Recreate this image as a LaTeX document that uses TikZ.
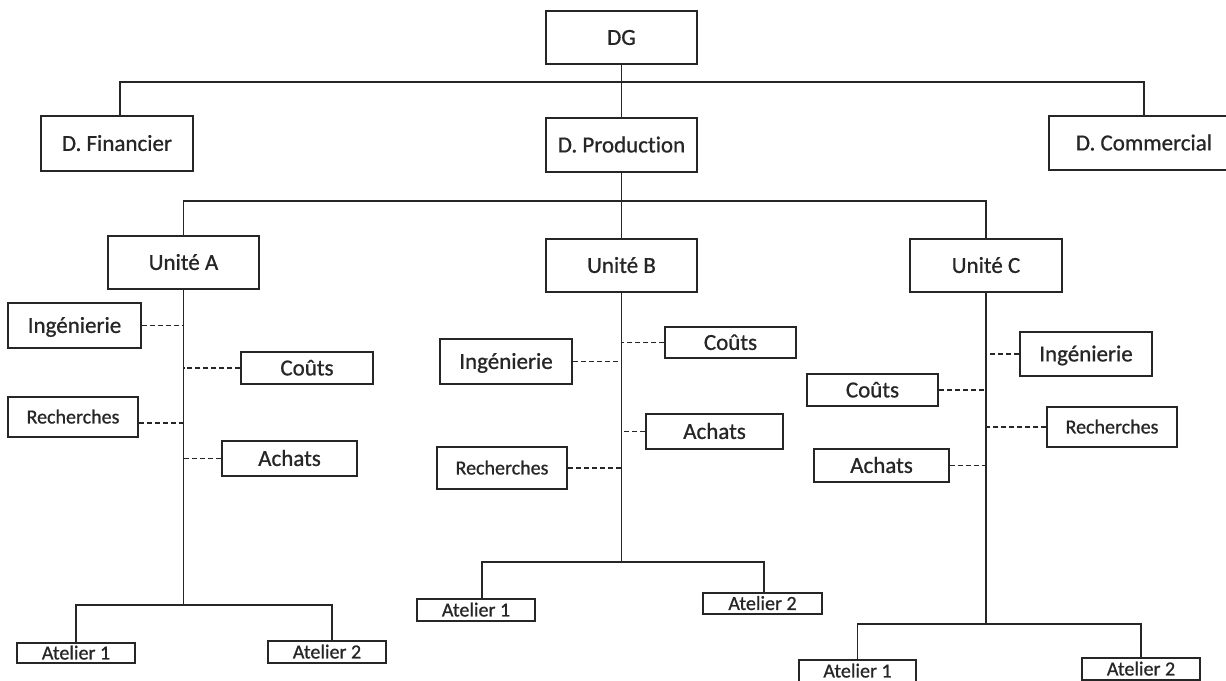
\documentclass[tikz,border=0pt]{standalone}
\usepackage{fontspec}
\setmainfont{Carlito}[Ligatures=NoCommon, FakeBold=0.8]
\begin{document}
\begin{tikzpicture}[x=1pt, y=-1pt, color=black!85,
  box/.style={draw, rectangle, line width=1.5pt, inner sep=0pt,
    text height=14.8pt, text depth=0pt,
    font=\fontsize{23}{27}\selectfont},
  small/.style={text height=12.9pt, font=\fontsize{20}{24}\selectfont},
  link/.style={line width=1.5pt},
  staff/.style={line width=1.2pt, dash pattern=on 5pt off 3pt}]
\useasboundingbox (0,0) rectangle (1226,680);

% general management and directorates
\node[box, minimum width=151pt, minimum height=53pt] (dg)   at (621.5,37.5) {DG};
\node[box, minimum width=152pt, minimum height=55pt] (fin)  at (117,143.5)  {D. Financier};
\node[box, minimum width=151pt, minimum height=54pt] (prod) at (621.5,145)  {D. Production};
\node[box, minimum width=190pt, minimum height=54pt] (com)  at (1144,143)   {D. Commercial};

% production units
\node[box, minimum width=151pt, minimum height=53pt] (ua) at (183.5,262.5) {Unité A};
\node[box, minimum width=151pt, minimum height=53pt] (ub) at (621.5,265.5) {Unité B};
\node[box, minimum width=152pt, minimum height=53pt] (uc) at (986,265.5)   {Unité C};

% unit A staff and workshops
\node[box, minimum width=133pt, minimum height=45pt] (ingA)  at (74.5,325.5) {Ingénierie};
\node[box, minimum width=132pt, minimum height=32pt] (coutA) at (307,368)    {Coûts};
\node[box, small, minimum width=130pt, minimum height=40pt] (rechA) at (73,417) {Recherches};
\node[box, minimum width=135pt, minimum height=35pt] (achA)  at (289.5,458.5) {Achats};
\node[box, small, minimum width=118pt, minimum height=20pt] (at1A) at (76,653)  {Atelier 1};
\node[box, small, minimum width=118pt, minimum height=22pt] (at2A) at (327,652) {Atelier 2};

% unit B staff and workshops
\node[box, minimum width=131pt, minimum height=31pt] (coutB) at (730.5,342.5) {Coûts};
\node[box, minimum width=132pt, minimum height=45pt] (ingB)  at (506,361.5)   {Ingénierie};
\node[box, minimum width=137pt, minimum height=35pt] (achB)  at (714.5,431.5) {Achats};
\node[box, small, minimum width=130pt, minimum height=42pt] (rechB) at (502,468) {Recherches};
\node[box, small, minimum width=118pt, minimum height=22pt] (at1B) at (476,610)     {Atelier 1};
\node[box, small, minimum width=119pt, minimum height=21pt] (at2B) at (762.5,603.5) {Atelier 2};

% unit C staff and workshops
\node[box, minimum width=132pt, minimum height=44pt] (ingC)  at (1086,354)   {Ingénierie};
\node[box, minimum width=131pt, minimum height=32pt] (coutC) at (872.5,390)  {Coûts};
\node[box, small, minimum width=130pt, minimum height=40pt] (rechC) at (1112,427) {Recherches};
\node[box, minimum width=135pt, minimum height=33pt] (achC)  at (881.5,465.5) {Achats};
\node[box, small, minimum width=117pt, minimum height=22pt] (at1C) at (857.5,671) {Atelier 1};
\node[box, small, minimum width=118pt, minimum height=22pt] (at2C) at (1141,669)  {Atelier 2};

% bus levels
\coordinate (top)   at (621.5,82);
\coordinate (mid)   at (621.5,201);
\coordinate (baseA) at (183.5,605);
\coordinate (baseB) at (621.5,562);
\coordinate (baseC) at (986,624);

% hierarchy
\draw[link] (dg) -- (prod);
\draw[link] ([xshift=3pt]fin.north) -- ([xshift=3pt]fin.north |- top)
  -- (com.north |- top) -- (com.north);
\draw[link] (prod) -- (ub);
\draw[link] (ua.north) -- (ua.north |- mid) -- (uc.north |- mid) -- (uc.north);

\draw[link] (ua.south) -- (baseA);
\draw[link] (at1A.north) -- (at1A.north |- baseA)
  -- ([xshift=5pt]at2A.north |- baseA) -- ([xshift=5pt]at2A.north);
\draw[link] (ub.south) -- (baseB);
\draw[link] ([xshift=6pt]at1B.north) -- ([xshift=6pt]at1B.north |- baseB)
  -- ([xshift=1.5pt]at2B.north |- baseB) -- ([xshift=1.5pt]at2B.north);
\draw[link] (uc.south) -- (baseC);
\draw[link] (at1C.north) -- (at1C.north |- baseC) -- (at2C.north |- baseC) -- (at2C.north);

% staff links (a shift is in page points, so downwards is negative)
\draw[staff] (ingA.east)  -- (ingA.east  -| ua.south);
\draw[staff] (coutA.west) -- (coutA.west -| ua.south);
\draw[staff] ([yshift=-6pt]rechA.east) -- ([yshift=-6pt]rechA.east -| ua.south);
\draw[staff] (achA.west)  -- (achA.west  -| ua.south);

\draw[staff] (coutB.west) -- (coutB.west -| ub.south);
\draw[staff] (ingB.east)  -- (ingB.east  -| ub.south);
\draw[staff] (achB.west)  -- (achB.west  -| ub.south);
\draw[staff] (rechB.east) -- (rechB.east -| ub.south);

\draw[staff] (ingC.west)  -- (ingC.west  -| uc.south);
\draw[staff] (coutC.east) -- (coutC.east -| uc.south);
\draw[staff] (rechC.west) -- (rechC.west -| uc.south);
\draw[staff] (achC.east)  -- (achC.east  -| uc.south);
\end{tikzpicture}
\end{document}
